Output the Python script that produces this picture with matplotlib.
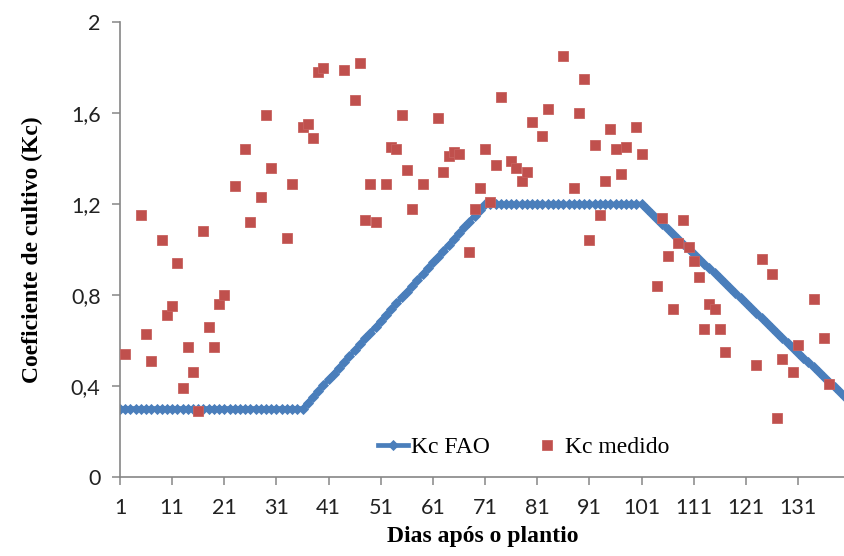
import matplotlib

matplotlib.use("Agg")
import matplotlib.pyplot as plt

# Kc FAO (one value per day)
dias_fao = list(range(1, 141))
kc_fao = [
    0.300, 0.300, 0.300, 0.300, 0.300, 0.300, 0.300, 0.300, 0.300, 0.300,
    0.300, 0.300, 0.300, 0.300, 0.300, 0.300, 0.300, 0.300, 0.300, 0.300,
    0.300, 0.300, 0.300, 0.300, 0.300, 0.300, 0.300, 0.300, 0.300, 0.300,
    0.300, 0.300, 0.300, 0.300, 0.300, 0.300, 0.326, 0.351, 0.377, 0.403,
    0.429, 0.454, 0.480, 0.506, 0.531, 0.557, 0.583, 0.609, 0.634, 0.660,
    0.686, 0.711, 0.737, 0.763, 0.789, 0.814, 0.840, 0.866, 0.891, 0.917,
    0.943, 0.969, 0.994, 1.020, 1.046, 1.071, 1.097, 1.123, 1.149, 1.174,
    1.200, 1.200, 1.200, 1.200, 1.200, 1.200, 1.200, 1.200, 1.200, 1.200,
    1.200, 1.200, 1.200, 1.200, 1.200, 1.200, 1.200, 1.200, 1.200, 1.200,
    1.200, 1.200, 1.200, 1.200, 1.200, 1.200, 1.200, 1.200, 1.200, 1.200,
    1.200, 1.178, 1.156, 1.135, 1.113, 1.091, 1.069, 1.047, 1.026, 1.004,
    0.982, 0.960, 0.938, 0.917, 0.895, 0.873, 0.851, 0.829, 0.808, 0.786,
    0.764, 0.742, 0.721, 0.699, 0.677, 0.655, 0.633, 0.612, 0.590, 0.568,
    0.546, 0.524, 0.503, 0.481, 0.459, 0.437, 0.415, 0.394, 0.372, 0.350,
]

# Kc medido
dias_medido = [
    2, 5, 6, 7, 9, 10, 11, 12, 13, 14, 15, 16, 17, 18, 19, 20, 21, 23, 25, 26,
    28, 29, 30, 33, 34, 36, 37, 38, 39, 40, 44, 46, 47, 48, 49, 50, 52, 53, 54, 55,
    56, 57, 59, 62, 63, 64, 65, 66, 68, 69, 70, 71, 72, 73, 74, 76, 77, 78, 79, 80,
    82, 83, 86, 88, 89, 90, 91, 92, 93, 94, 95, 96, 97, 98, 100, 101, 104, 105, 106, 107,
    108, 109, 110, 111, 112, 113, 114, 115, 116, 117, 123, 124, 126, 127, 128, 130, 131, 134, 136, 137,
]
kc_medido = [
    0.54, 1.15, 0.63, 0.51, 1.04, 0.71, 0.75, 0.94, 0.39, 0.57, 0.46, 0.29, 1.08, 0.66, 0.57, 0.76, 0.80, 1.28, 1.44, 1.12,
    1.23, 1.59, 1.36, 1.05, 1.29, 1.54, 1.55, 1.49, 1.78, 1.80, 1.79, 1.66, 1.82, 1.13, 1.29, 1.12, 1.29, 1.45, 1.44, 1.59,
    1.35, 1.18, 1.29, 1.58, 1.34, 1.41, 1.43, 1.42, 0.99, 1.18, 1.27, 1.44, 1.21, 1.37, 1.67, 1.39, 1.36, 1.30, 1.34, 1.56,
    1.50, 1.62, 1.85, 1.27, 1.60, 1.75, 1.04, 1.46, 1.15, 1.30, 1.53, 1.44, 1.33, 1.45, 1.54, 1.42, 0.84, 1.14, 0.97, 0.74,
    1.03, 1.13, 1.01, 0.95, 0.88, 0.65, 0.76, 0.74, 0.65, 0.55, 0.49, 0.96, 0.89, 0.26, 0.52, 0.46, 0.58, 0.78, 0.61, 0.41,
]

x_ticks = [1, 11, 21, 31, 41, 51, 61, 71, 81, 91, 101, 111, 121, 131]
y_ticks = [0, 0.4, 0.8, 1.2, 1.6, 2.0]
y_labels = ["0", "0,4", "0,8", "1,2", "1,6", "2"]

azul = "#4A7EBB"
vermelho = "#C0504D"
cinza = "#868686"

fig = plt.figure(figsize=(8.45, 5.56), dpi=100)
ax = fig.add_axes([0.142, 0.1426, 0.858, 0.8174])

ax.plot(dias_fao, kc_fao, color=azul, linewidth=3.4, marker="D",
        markersize=5.0, markeredgewidth=0.6, markeredgecolor=azul,
        label="Kc FAO", zorder=2)
ax.plot(dias_medido, kc_medido, linestyle="none", marker="s", markersize=7.6,
        markerfacecolor=vermelho, markeredgecolor="#C8625F", markeredgewidth=0.6,
        label="Kc medido", zorder=3)

ax.set_xlim(1, 140)
ax.set_ylim(0, 2)
ax.set_xticks(x_ticks)
ax.set_xticklabels([str(t) for t in x_ticks])
ax.set_yticks(y_ticks)
ax.set_yticklabels(y_labels)

for side in ["top", "right"]:
    ax.spines[side].set_visible(False)
for side in ["left", "bottom"]:
    ax.spines[side].set_color(cinza)
    ax.spines[side].set_linewidth(1.2)

ax.tick_params(axis="both", direction="out", length=6, width=1.1, color=cinza,
               labelsize=15.5, labelcolor="#222222")
ax.tick_params(axis="y", pad=8)
ax.tick_params(axis="x", pad=9)
for lab in ax.get_xticklabels() + ax.get_yticklabels():
    lab.set_family("Lato")

ax.set_xlabel("Dias após o plantio", family="Liberation Serif", fontsize=17,
              fontweight="bold", labelpad=6)
ax.set_ylabel("Coeficiente de cultivo (Kc)", family="Liberation Serif", fontsize=17,
              fontweight="bold", labelpad=20)

leg = ax.legend(loc="center", bbox_to_anchor=(0.6195, 0.196),
                bbox_transform=fig.transFigure, ncol=2, frameon=False,
                prop={"family": "Liberation Serif", "size": 17},
                handlelength=1.3, handletextpad=0.1, columnspacing=1.8,
                numpoints=1)

fig.savefig("out.png", dpi=100)
